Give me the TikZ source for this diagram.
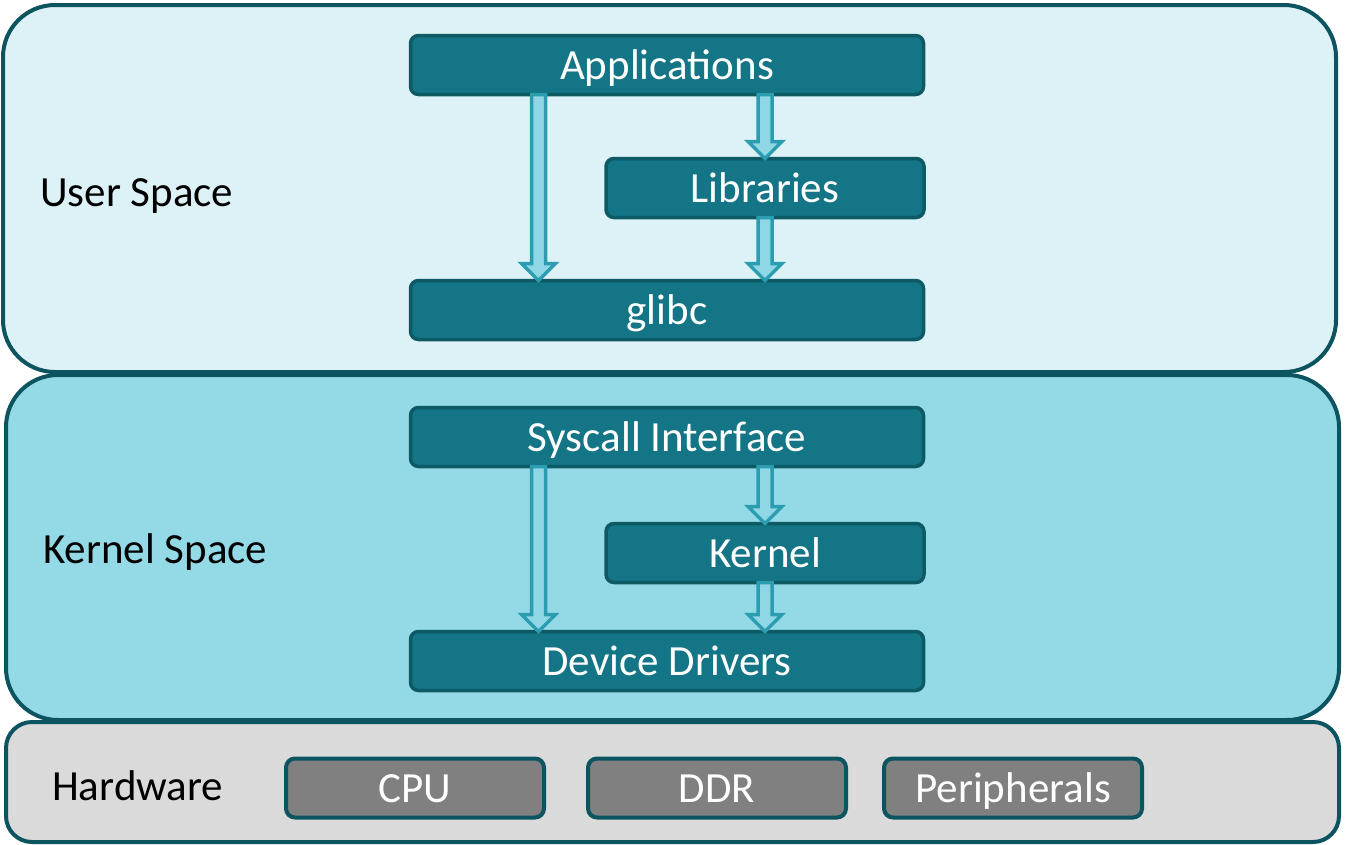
\documentclass[tikz,border=0pt]{standalone}
\usepackage{fontspec}
\setmainfont{Carlito}
\usetikzlibrary{calc}

\definecolor{layerline}{HTML}{0C5560}
\definecolor{userbg}{HTML}{DCF2F6}
\definecolor{kernbg}{HTML}{93D9E6}
\definecolor{hwbg}{HTML}{DADADA}
\definecolor{blockfill}{HTML}{137585}
\definecolor{blockline}{HTML}{0D5A64}
\definecolor{hwfill}{HTML}{808080}
\definecolor{arrline}{HTML}{2C9DB1}
\definecolor{arrfill}{HTML}{90D7E5}

\tikzset{
  bigtext/.style={font=\fontsize{43}{51}\selectfont},
  layer/.style={draw=layerline, line width=4pt, rounded corners=#1, anchor=north west, inner sep=0pt, outer sep=0pt},
  layerlabel/.style={bigtext, anchor=base west, inner sep=0pt, text=black},
  boxtext/.style={bigtext, text height=32pt, text depth=4pt, inner sep=0pt, outer sep=0pt, text=white},
  block/.style={boxtext, draw=blockline, fill=blockfill, line width=3.5pt, rounded corners=8pt,
    minimum height=59pt},
  hwblock/.style={boxtext, draw=layerline, fill=hwfill, line width=4pt, rounded corners=9pt,
    minimum width=258pt, minimum height=59pt},
  blockarr/.style={draw=arrline, fill=arrfill, line width=3.5pt, line join=miter}
}

% hollow block arrow running straight down from #1 to #2
\newcommand\downarrowblock[2]{%
  \draw[blockarr] let \p1=(#1), \p2=(#2) in
    (\x1-7pt,\y1) -- (\x1-7pt,\y2+17pt) -- (\x1-17pt,\y2+17pt) -- (\x1,\y2)
    -- (\x1+17pt,\y2+17pt) -- (\x1+7pt,\y2+17pt) -- (\x1+7pt,\y1) -- cycle;}

\begin{document}
\begin{tikzpicture}[x=1pt,y=-1pt]
\useasboundingbox (0,0) rectangle (1345,844);

% layers
\node[layer=26pt, fill=hwbg, minimum width=1333pt, minimum height=120pt] (hw) at (6,722) {};
\node[layer=52pt, fill=kernbg, minimum width=1333pt, minimum height=345pt] (kern) at (6,375) {};
\node[layer=52pt, fill=userbg, minimum width=1333pt, minimum height=367pt] (user) at (3,5) {};

\node[layerlabel] (userlbl) at (40,206) {User Space};
\node[layerlabel] (kernlbl) at (43,563) {Kernel Space};
\node[layerlabel] (hwlbl) at (52,800) {Hardware};

% user space blocks
\node[block, minimum width=513pt] (apps) at (667,65) {Applications};
\node[block, minimum width=318pt] (libs) at (765,188) {Libraries};
\node[block, minimum width=513pt] (glibc) at (667,310) {glibc};

% kernel space blocks
\node[block, minimum width=513pt] (sys) at (667,437) {Syscall Interface};
\node[block, minimum width=318pt] (kernel) at (765,553) {Kernel};
\node[block, minimum width=513pt] (drv) at (667,661) {Device Drivers};

% hardware blocks
\node[hwblock] (cpu) at (415,788) {CPU};
\node[hwblock] (ddr) at (717,788) {DDR};
\node[hwblock] (per) at (1013,788) {Peripherals};

% flow arrows
\downarrowblock{$(apps.south west)+(128,0)$}{$(glibc.north west)+(128,0)$}
\downarrowblock{apps.south -| libs.center}{libs.north}
\downarrowblock{libs.south}{glibc.north -| libs.center}
\downarrowblock{$(sys.south west)+(128,0)$}{$(drv.north west)+(128,0)$}
\downarrowblock{sys.south -| kernel.center}{kernel.north}
\downarrowblock{kernel.south}{drv.north -| kernel.center}
\end{tikzpicture}
\end{document}
